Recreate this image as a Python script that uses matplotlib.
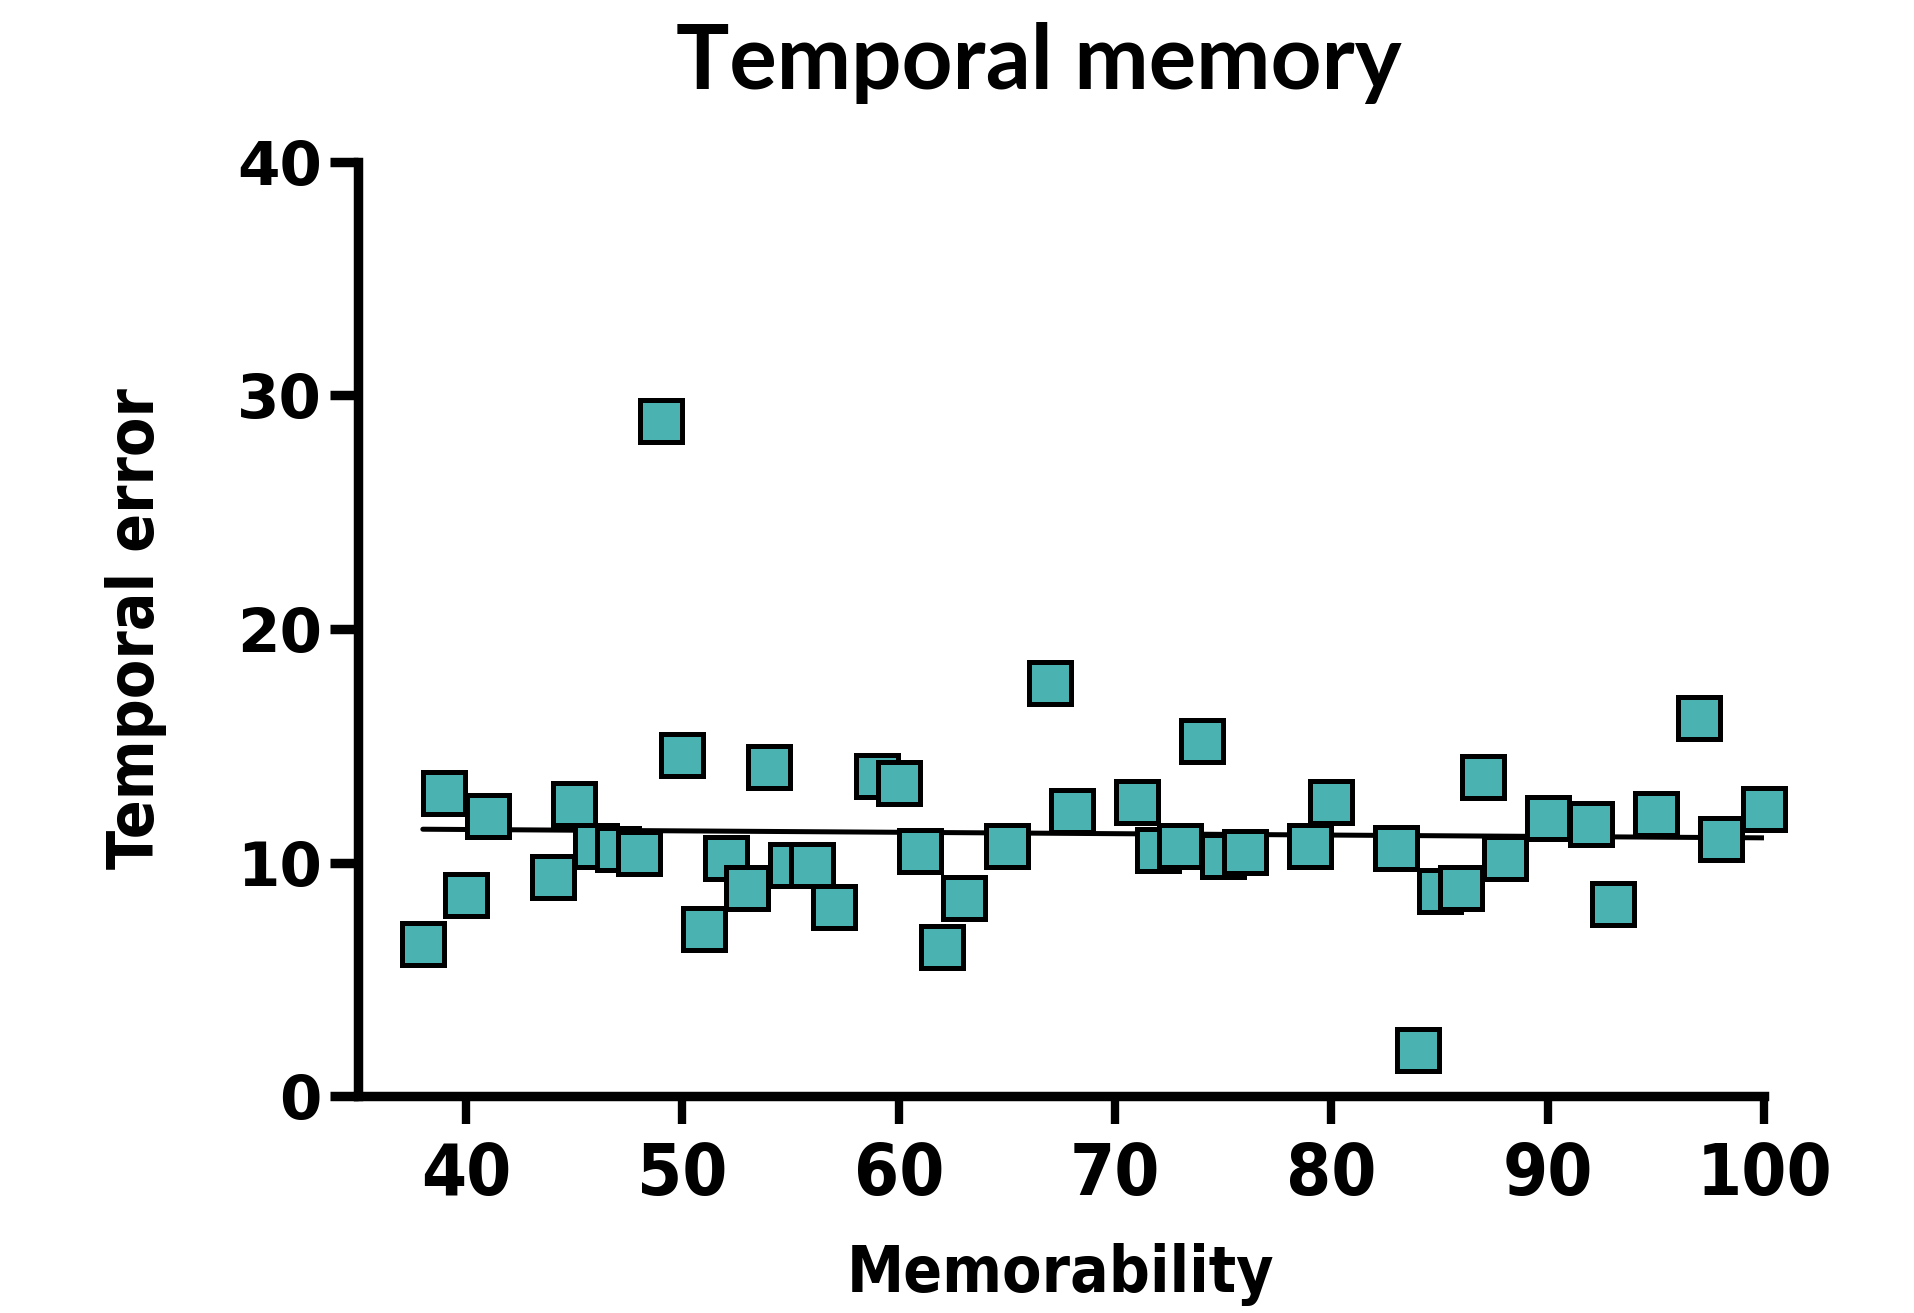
import matplotlib
matplotlib.use("Agg")
import matplotlib.pyplot as plt
from matplotlib import font_manager
import numpy as np

# memorability (x) and temporal error (y)
memorability = [38, 39, 40, 41, 44, 45, 46, 47, 48, 49, 50, 51, 52, 53, 54, 55,
                56, 57, 59, 60, 61, 62, 63, 65, 67, 68, 71, 72, 73, 74, 75, 76,
                79, 80, 83, 84, 85, 86, 87, 88, 90, 92, 93, 95, 97, 98, 100]
temporal_error = [6.5, 13.0, 8.6, 12.0, 9.4, 12.5, 10.7, 10.6, 10.4, 28.9, 14.6,
                  7.15, 10.2, 8.9, 14.1, 9.9, 9.9, 8.1, 13.7, 13.4, 10.5, 6.4,
                  8.5, 10.7, 17.7, 12.2, 12.6, 10.55, 10.7, 15.2, 10.3, 10.45,
                  10.7, 12.6, 10.65, 2.0, 8.8, 8.9, 13.65, 10.2, 11.9, 11.65,
                  8.25, 12.1, 16.2, 11.0, 12.3]
x_ticks = [40, 50, 60, 70, 80, 90, 100]
y_ticks = [0, 10, 20, 30, 40]

names = {f.name for f in font_manager.fontManager.ttflist}
title_font = "Lato" if "Lato" in names else "DejaVu Sans"
narrow = dict(family="DejaVu Sans", stretch="condensed", weight="bold")

fig = plt.figure(figsize=(19.14, 13.13), dpi=100)
ax = fig.add_axes([0.187, 0.165, 0.7347, 0.7118])

# regression line over the data range
slope, intercept = np.polyfit(memorability, temporal_error, 1)
xs = np.array([min(memorability), max(memorability)])
ax.plot(xs, slope * xs + intercept, color="black", lw=3.6, zorder=2,
        solid_capstyle="round")

ax.plot(memorability, temporal_error, linestyle="none", marker="s",
        markersize=30, markerfacecolor="#4AB2B0", markeredgecolor="black",
        markeredgewidth=3.6, zorder=3, clip_on=False)

ax.set_xlim(35, 100)
ax.set_ylim(0, 40)
ax.set_xticks(x_ticks)
ax.set_yticks(y_ticks)

for side in ["top", "right"]:
    ax.spines[side].set_visible(False)
for side in ["left", "bottom"]:
    ax.spines[side].set_linewidth(6.8)
    ax.spines[side].set_capstyle("projecting")

ax.tick_params(axis="y", length=20, width=6.8, pad=6)
ax.tick_params(axis="x", length=20, width=6, pad=12)

for lab in ax.get_xticklabels():
    lab.set_fontfamily("DejaVu Sans")
    lab.set_fontstretch("condensed")
    lab.set_fontweight("bold")
    lab.set_fontsize(52)
for lab in ax.get_yticklabels():
    lab.set_fontfamily("DejaVu Sans")
    lab.set_fontweight("bold")
    lab.set_fontsize(44)

ax.set_xlabel("Memorability", fontsize=46, labelpad=24, **narrow)
ax.set_ylabel("Temporal error", fontsize=46, labelpad=50, **narrow)

fig.text(0.543, 0.952, "Temporal memory", ha="center", va="center",
         fontfamily=title_font, fontweight="bold", fontsize=64)

fig.savefig("out.png", dpi=100)
